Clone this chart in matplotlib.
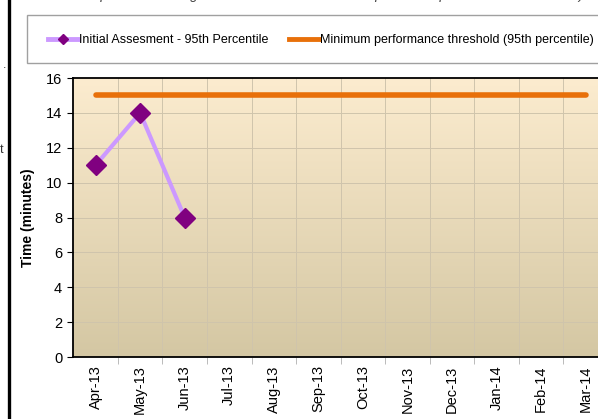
import numpy as np
import matplotlib
matplotlib.use("Agg")
import matplotlib.pyplot as plt
from matplotlib.lines import Line2D
from matplotlib.patches import Rectangle

plt.rcParams['font.family'] = ['Liberation Sans', 'DejaVu Sans']

months = ['Apr-13', 'May-13', 'Jun-13', 'Jul-13', 'Aug-13', 'Sep-13',
          'Oct-13', 'Nov-13', 'Dec-13', 'Jan-14', 'Feb-14', 'Mar-14']
initial = [11, 14, 8]
threshold = [15] * 12
yticks = [0, 2, 4, 6, 8, 10, 12, 14, 16]

W, H = 598, 419
fig = plt.figure(figsize=(W / 100, H / 100), dpi=100)
fig.patch.set_facecolor('white')

# plot area (runs off the right edge like the original)
left, right, top, bottom = 73.3, 608, 78, 357
ax = fig.add_axes([left / W, 1 - bottom / H, (right - left) / W, (bottom - top) / H])

x = np.arange(len(months))
ax.set_xlim(-0.5, len(months) - 0.5)
ax.set_ylim(0, 16)

# gradient background
top_c = np.array([252, 236, 207]) / 255
bot_c = np.array([212, 199, 163]) / 255
t = np.linspace(0, 1, 256)[:, None]
grad = (top_c * (1 - t) + bot_c * t)[:, None, :]
ax.imshow(grad, extent=[-0.5, len(months) - 0.5, 0, 16], aspect='auto',
          origin='upper', zorder=0)

# grid
for b in np.arange(0.5, len(months) - 0.5, 1):
    ax.axvline(b, color='#cfc4ac', lw=0.7, zorder=1)
for yv in yticks[1:-1]:
    ax.axhline(yv, color='#cfc4ac', lw=0.7, zorder=1)

ax.plot(x, threshold, color='#e8700a', lw=4, solid_capstyle='round', zorder=3)
ax.plot(x[:len(initial)], initial, color='#cc99ff', lw=3, zorder=4)
ax.plot(x[:len(initial)], initial, ls='none', marker='D', ms=10,
        mfc='#800080', mec='#800080', zorder=5)

ax.set_xticks(x)
ax.set_xticklabels(months, rotation=90, fontsize=10.5)
ax.set_xticks(np.arange(0.5, len(months), 1), minor=True)
ax.tick_params(axis='x', which='major', length=0, pad=6)
ax.tick_params(axis='x', which='minor', length=5, color='#b0b0b0')
ax.set_yticks(yticks)
ax.tick_params(axis='y', labelsize=10.5, length=4, pad=4)
for s in ['left', 'bottom', 'top']:
    ax.spines[s].set_linewidth(1.3)
ax.set_ylabel('Time (minutes)', fontsize=10, fontweight='bold', labelpad=8)

# legend box
fig.add_artist(Rectangle((27 / W, 1 - 63 / H), 1, 48 / H, transform=fig.transFigure,
                         fc='white', ec='#a0a0a0', lw=1))
h1 = Line2D([], [], color='#cc99ff', lw=3.5, marker='D', ms=5, mfc='#800080', mec='#800080')
h2 = Line2D([], [], color='#e8700a', lw=3.5)
fig.legend([h1, h2], ['Initial Assesment - 95th Percentile',
                      'Minimum performance threshold (95th percentile)'],
           ncol=2, frameon=False, loc='center left', fontsize=9,
           bbox_to_anchor=(48 / W, 1 - 40 / H), borderaxespad=0, borderpad=0,
           handlelength=2.4, handletextpad=0.05, columnspacing=1.7)

# page border and cropped surrounding text
fig.add_artist(Line2D([9 / W, 9 / W], [0, 1], color='black', lw=2.4))
fig.text(68 / W, 1 + 5 / H, 'Staff performance against national minimum 95th percentile performance threshold)',
         fontsize=10, style='italic', color='#444444', va='center')
fig.text(3 / W, 1 - 65 / H, '.', fontsize=9, color='#333333', va='center')
fig.text(0 / W, 1 - 150 / H, 't', fontsize=9, color='#333333', va='center')

fig.savefig('out.png', dpi=100)
